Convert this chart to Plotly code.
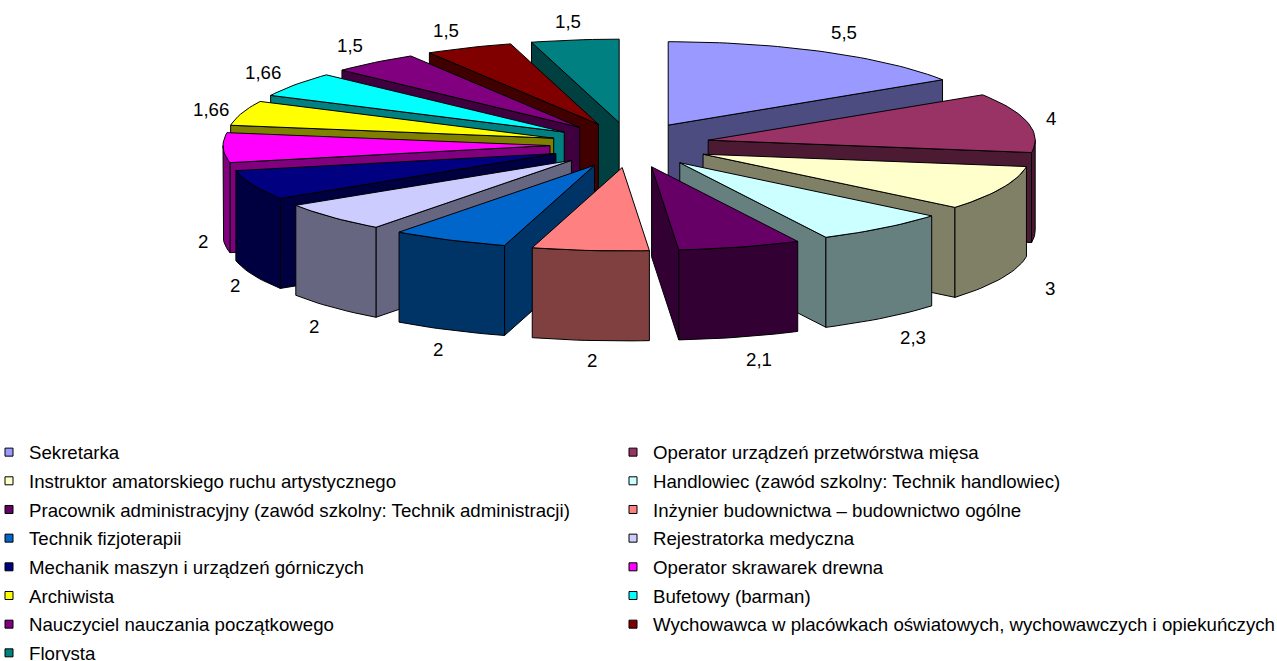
import math
import plotly.graph_objects as go

categories = [
    "Sekretarka",
    "Operator urządzeń przetwórstwa mięsa",
    "Instruktor amatorskiego ruchu artystycznego",
    "Handlowiec (zawód szkolny: Technik handlowiec)",
    "Pracownik administracyjny (zawód szkolny: Technik administracji)",
    "Inżynier budownictwa – budownictwo ogólne",
    "Technik fizjoterapii",
    "Rejestratorka medyczna",
    "Mechanik maszyn i urządzeń górniczych",
    "Operator skrawarek drewna",
    "Archiwista",
    "Bufetowy (barman)",
    "Nauczyciel nauczania początkowego",
    "Wychowawca w placówkach oświatowych, wychowawczych i opiekuńczych",
    "Florysta",
]
values = [5.5, 4, 3, 2.3, 2.1, 2, 2, 2, 2, 2, 1.66, 1.66, 1.5, 1.5, 1.5]
value_labels = ["5,5", "4", "3", "2,3", "2,1", "2", "2", "2", "2", "2", "1,66", "1,66", "1,5", "1,5", "1,5"]

# styling
colors = ["#9999FF", "#993366", "#FFFFCC", "#CCFFFF", "#660066", "#FF8080", "#0066CC", "#CCCCFF",
          "#000080", "#FF00FF", "#FFFF00", "#00FFFF", "#800080", "#800000", "#008080"]
label_shift = [(20, -19), (23, -4), (48, 10), (30, 19), (19, 22), (2, 20), (-11, 19), (-18, 19),
               (-18, 10), (-20, 4), (-31, -4), (-33, -12), (-25, -17), (-23, -17), (-7, -18)]
W, H = 1277, 661
CX, CY = 630, 145        # pie centre on the canvas
R = 327                  # radius
K = 0.255                # vertical squash
EXPLODE = 80
EXPLODE_K = 0.283
WALL = 90                # wall height
FONT = "Liberation Sans, Arial, sans-serif"
FONT_SIZE = 18.67


def darker(c):
    return "rgb(%d,%d,%d)" % tuple(round(int(c[i:i + 2], 16) * 0.5) for i in (1, 3, 5))


def rim(apex, deg):
    t = math.radians(deg)
    return apex[0] + R * math.sin(t), apex[1] - R * K * math.cos(t)


def arc(apex, a, b):
    n = max(2, int(abs(b - a) / 1.5) + 1)
    return [rim(apex, a + (b - a) * i / (n - 1)) for i in range(n)]


def down(pts):
    return [(x, y + WALL) for x, y in pts]


def poly(fig, pts, fill):
    pts = list(pts) + [pts[0]]
    fig.add_trace(go.Scatter(x=[p[0] for p in pts], y=[p[1] for p in pts], mode="lines", fill="toself",
                             fillcolor=fill, line=dict(color="black", width=1), showlegend=False,
                             hoverinfo="skip"))


total = sum(values)
slices = []
cum = 0
for i, v in enumerate(values):
    a = cum / total * 360
    cum += v
    b = cum / total * 360
    mid = (a + b) / 2
    tm = math.radians(mid)
    apex = (CX + EXPLODE * math.sin(tm), CY - EXPLODE * EXPLODE_K * math.cos(tm))
    slices.append(dict(i=i, a=a, b=b, mid=mid, apex=apex))

fig = go.Figure()
annotations = []
# back-to-front
for s in sorted(slices, key=lambda s: math.cos(math.radians(s["mid"])), reverse=True):
    i, a, b, apex = s["i"], s["a"], s["b"], s["apex"]
    top, side = colors[i], darker(colors[i])
    if math.sin(math.radians(a)) < 0:
        p = rim(apex, a)
        poly(fig, [apex, p, (p[0], p[1] + WALL), (apex[0], apex[1] + WALL)], side)
    if math.sin(math.radians(b)) > 0:
        p = rim(apex, b)
        poly(fig, [apex, p, (p[0], p[1] + WALL), (apex[0], apex[1] + WALL)], side)
    lo, hi = max(a, 90), min(b, 270)
    if lo < hi:
        pts = arc(apex, lo, hi)
        poly(fig, pts + down(pts)[::-1], side)
    poly(fig, [apex] + arc(apex, a, b), top)

for s in slices:
    i = s["i"]
    x, y = rim(s["apex"], s["mid"])
    if math.cos(math.radians(s["mid"])) < 0:
        y += WALL
    dx, dy = label_shift[i]
    annotations.append(dict(x=x, y=y, xref="x", yref="y", text=value_labels[i], showarrow=False,
                            xshift=dx, yshift=-dy, font=dict(family=FONT, size=FONT_SIZE, color="black")))

# legend entries: two columns, filled row by row
for i, name in enumerate(categories):
    fig.add_trace(go.Scatter(x=[None], y=[None], mode="markers", name=name,
                             legend="legend" if i % 2 == 0 else "legend2", legendgroup=name,
                             marker=dict(symbol="square", size=8, color=colors[i],
                                         line=dict(color="black", width=1))))

legend_common = dict(orientation="v", xanchor="left", yanchor="top", bgcolor="rgba(0,0,0,0)",
                     borderwidth=0, tracegroupgap=1.4, itemwidth=30,
                     font=dict(family=FONT, size=FONT_SIZE, color="black"), traceorder="grouped",
                     itemclick=False, itemdoubleclick=False)

fig.update_layout(
    width=W, height=H, margin=dict(l=0, r=0, t=0, b=0, autoexpand=False),
    plot_bgcolor="white", paper_bgcolor="white",
    xaxis=dict(range=[0, W], visible=False, fixedrange=True),
    yaxis=dict(range=[H, 0], visible=False, fixedrange=True),
    annotations=annotations,
    legend=dict(x=0, y=1 - 433.5 / H, indentation=-11, **legend_common),
    legend2=dict(x=612 / W, y=1 - 433.5 / H, indentation=1, **legend_common),
    hovermode=False,
)
fig.write_html("out.html", config=dict(displayModeBar=False),
               post_script="document.body.style.margin='0';document.documentElement.style.overflow='hidden';")
